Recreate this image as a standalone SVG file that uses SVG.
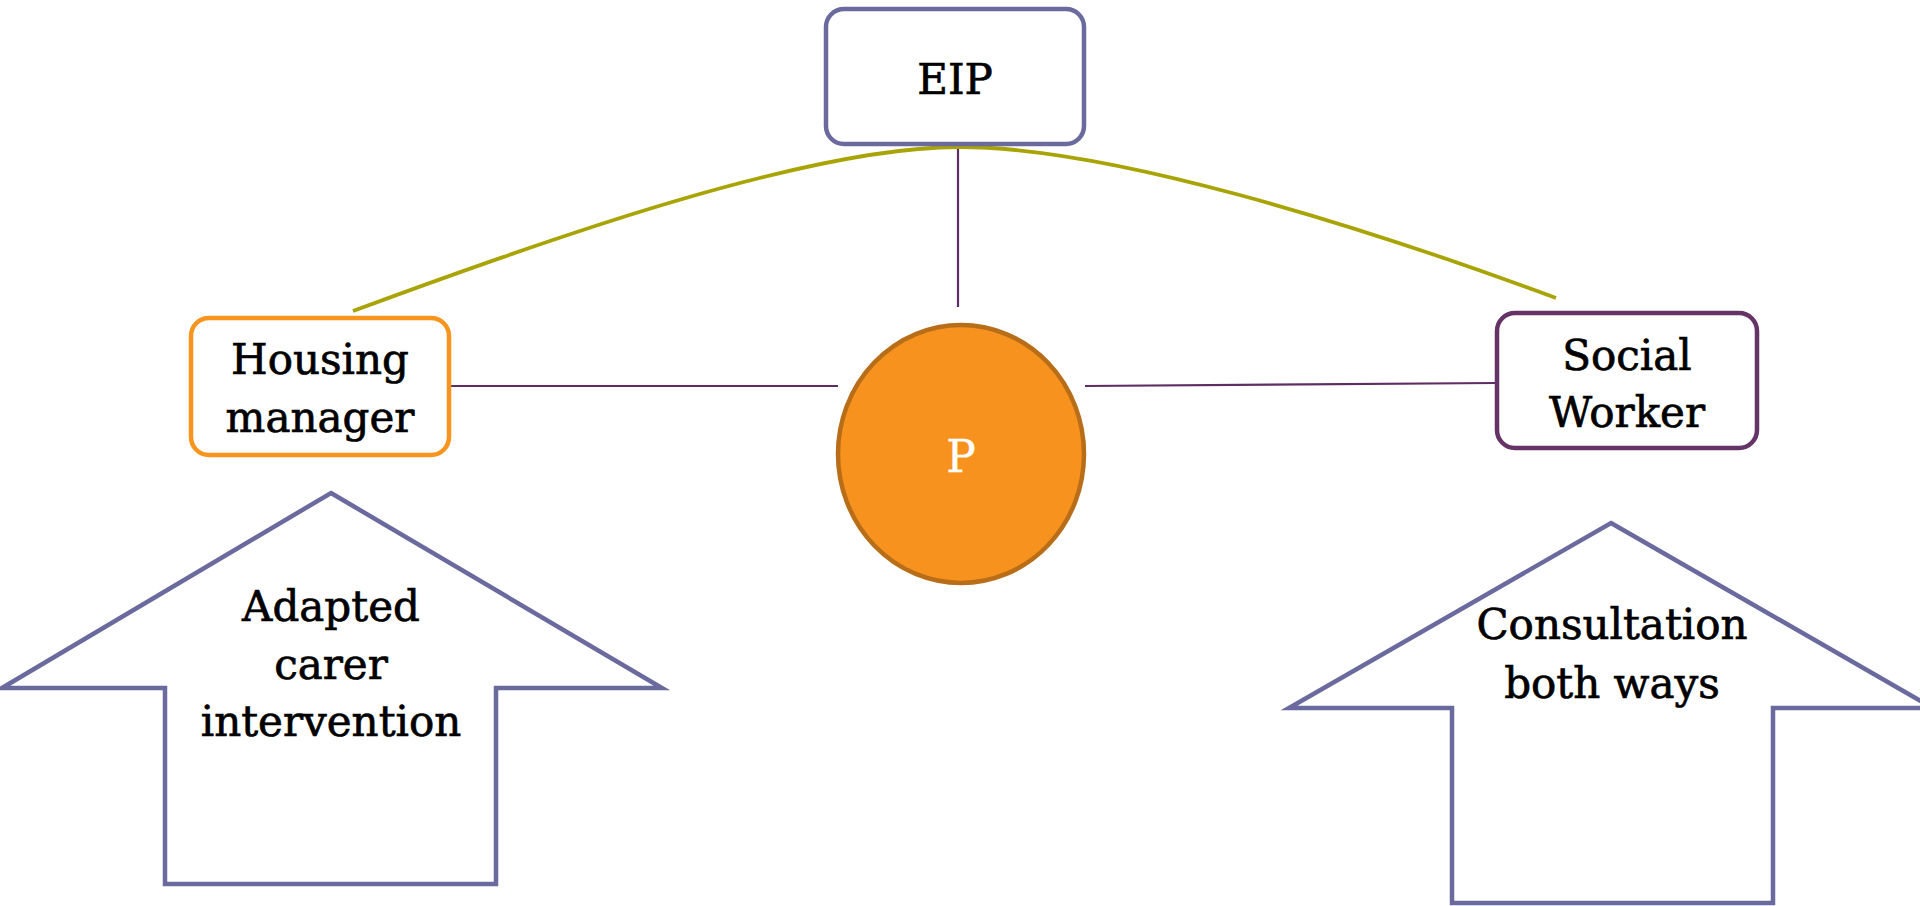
<svg xmlns="http://www.w3.org/2000/svg" width="1920" height="906" viewBox="0 0 1920 906">
<style>
text{font-family:"DejaVu Serif","Liberation Serif",serif;font-size:42px;fill:#000;stroke:#000;stroke-width:0.7;text-anchor:middle}
.box{fill:#fff;stroke-width:4.5}
.arrow{fill:#fff;stroke:#6A6A9E;stroke-width:4.5;stroke-linejoin:miter}
.link{stroke:#5E2D63;stroke-width:2.2;fill:none}
.arc{stroke:#A8A406;stroke-width:3.8;fill:none}
</style>
<rect width="1920" height="906" fill="#fff"/>
<g id="connectors">
<path class="arc" d="M353,311 C553,237 809,147 959,147 C1109,147 1356,224 1556,298"/>
<line class="link" x1="958" y1="149" x2="958" y2="307"/>
<line class="link" x1="449" y1="386" x2="838" y2="386"/>
<line class="link" x1="1085" y1="386" x2="1496" y2="383"/>
</g>
<g id="eip">
<rect class="box" x="826" y="9" width="258" height="135" rx="18" stroke="#6A6A9E"/>
<text x="955" y="94">EIP</text>
</g>
<g id="housing">
<rect class="box" x="191" y="318" width="258" height="137" rx="18" stroke="#F7941D"/>
<text x="320" y="374">Housing</text>
<text x="320" y="432">manager</text>
</g>
<g id="social">
<rect class="box" x="1497" y="313" width="260" height="135" rx="18" stroke="#663366"/>
<text x="1627" y="370">Social</text>
<text x="1627" y="427">Worker</text>
</g>
<g id="p">
<ellipse cx="961" cy="454" rx="123" ry="129" fill="#F7921E" stroke="#B86D18" stroke-width="4.5"/>
<text x="961" y="472" style="fill:#fff;stroke:#fff;stroke-width:0.4;font-size:44px">P</text>
</g>
<g id="arrow-left">
<polygon class="arrow" points="331,493 662,688 496,688 496,884 165,884 165,688 2,688"/>
<text x="331" y="621">Adapted</text>
<text x="331" y="679">carer</text>
<text x="331" y="736">intervention</text>
</g>
<g id="arrow-right">
<polygon class="arrow" points="1611,523 1933,708 1773,708 1773,903 1452,903 1452,708 1289,708"/>
<text x="1612" y="639">Consultation</text>
<text x="1612" y="698">both ways</text>
</g>
</svg>
